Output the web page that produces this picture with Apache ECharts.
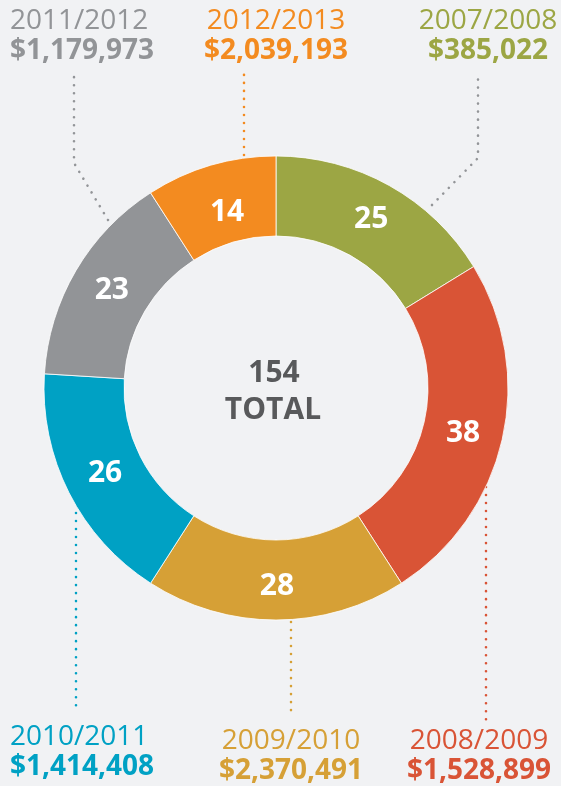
<!DOCTYPE html>
<html>
<head>
<meta charset="utf-8">
<script src="https://cdn.jsdelivr.net/npm/echarts@6/dist/echarts.min.js"></script>
<style>
  html, body { margin: 0; padding: 0; background: #f1f2f4; }
  #main { width: 561px; height: 786px; }
</style>
</head>
<body>
<div id="main"></div>
<script>
// data
var years = ['2007/2008', '2008/2009', '2009/2010', '2010/2011', '2011/2012', '2012/2013'];
var counts = [25, 38, 28, 26, 23, 14];
var amounts = [385022, 1528899, 2370491, 1414408, 1179973, 2039193];
var colors = ['#9ca644', '#d95436', '#d6a036', '#00a1c4', '#929497', '#f38b20'];

// where each callout sits (x, text align, y of first line) and its dotted leader
var callouts = [
  { x: 488, align: 'center', y: 21, lineColor: '#939598', pts: [[432, 205], [478, 158], [478, 74]] },
  { x: 479, align: 'center', y: 741, lineColor: '#d95436', pts: [[486, 487], [486, 721]] },
  { x: 291, align: 'center', y: 741, lineColor: '#d6a036', pts: [[291, 622], [291, 716]] },
  { x: 10, align: 'left', y: 737, lineColor: '#00a1c4', pts: [[76, 513], [76, 711]] },
  { x: 10, align: 'left', y: 21, lineColor: '#939598', pts: [[108, 220], [74, 163], [74, 76]] },
  { x: 276, align: 'center', y: 21, lineColor: '#f38b20', pts: [[244, 155], [244, 72]] }
];
// small nudges of the in-ring numbers
var labelOffsets = [[0, 2], [-3, 2], [1, 3], [3, -3], [4, 1], [6, 12]];

var total = counts.reduce(function (a, b) { return a + b; }, 0);

var myChart = echarts.init(document.getElementById('main'));

var graphics = [];
callouts.forEach(function (c, i) {
  graphics.push({
    type: 'polyline',
    shape: { points: c.pts },
    silent: true,
    style: { stroke: c.lineColor, lineWidth: 2.6, lineDash: [0.01, 8], lineCap: 'round', fill: null }
  });
  graphics.push({
    type: 'text', x: c.x, y: c.y, silent: true,
    style: {
      text: years[i], fill: colors[i], font: '28px "Open Sans"',
      textAlign: c.align, textVerticalAlign: 'middle'
    }
  });
  graphics.push({
    type: 'text', x: c.x, y: c.y + 30, silent: true,
    style: {
      text: '$' + amounts[i].toLocaleString('en-US'), fill: colors[i], font: 'bold 28px "Open Sans"',
      textAlign: c.align, textVerticalAlign: 'middle'
    }
  });
});

// total in the middle
graphics.push({
  type: 'text', x: 274, y: 373, silent: true,
  style: { text: String(total), fill: '#58595b', font: 'bold 30px "Open Sans"', textAlign: 'center', textVerticalAlign: 'middle' }
});
graphics.push({
  type: 'text', x: 273, y: 410, silent: true,
  style: { text: 'TOTAL', fill: '#58595b', font: 'bold 30px "Open Sans"', textAlign: 'center', textVerticalAlign: 'middle' }
});

myChart.setOption({
  backgroundColor: '#f1f2f4',
  animation: false,
  series: [
    {
      type: 'pie',
      center: [276, 388],
      radius: [152, 232],
      startAngle: 90,
      clockwise: true,
      silent: true,
      itemStyle: { borderColor: '#ffffff', borderWidth: 0.8 },
      label: {
        show: true,
        position: 'inside',
        color: '#ffffff',
        fontFamily: 'Open Sans',
        fontWeight: 'bold',
        fontSize: 30,
        formatter: '{c}'
      },
      labelLine: { show: false },
      data: counts.map(function (v, i) {
        return {
          name: years[i], value: v,
          itemStyle: { color: colors[i] },
          label: { offset: labelOffsets[i] }
        };
      })
    }
  ],
  graphic: graphics
});
</script>
</body>
</html>
